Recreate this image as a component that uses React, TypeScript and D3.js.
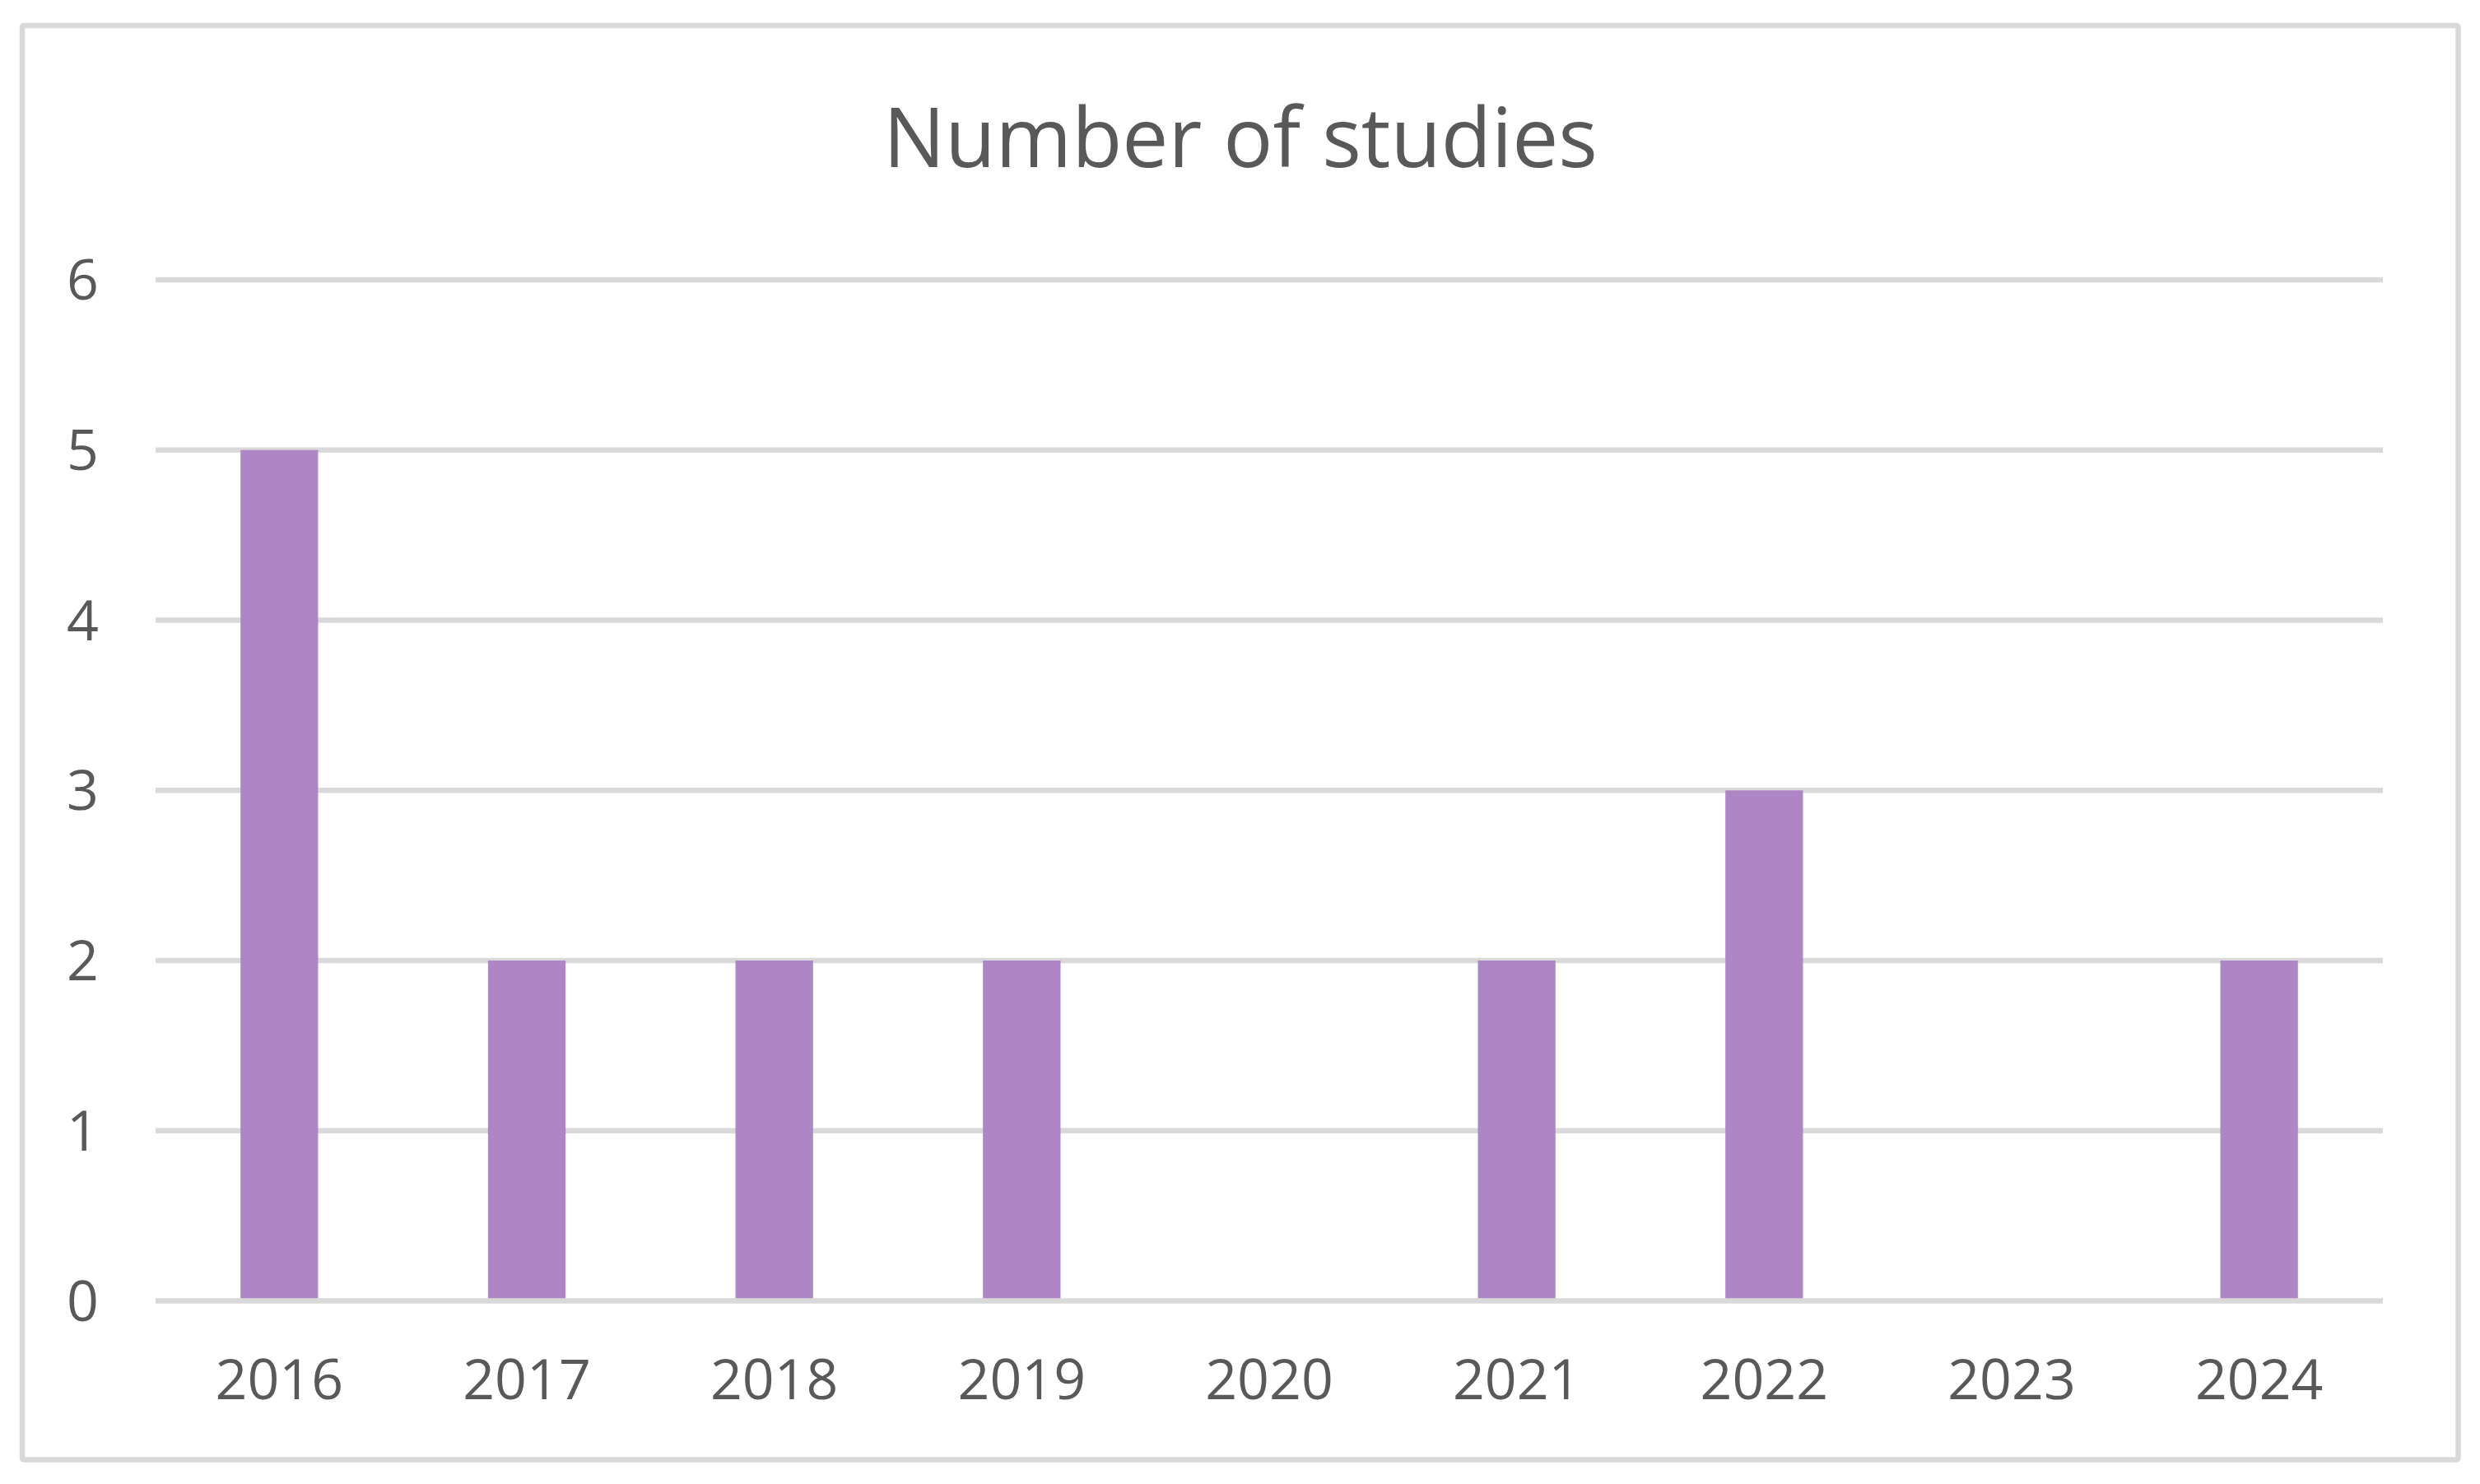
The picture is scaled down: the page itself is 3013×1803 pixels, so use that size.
import React from "react";
import * as d3 from "d3";

const years = ["2016", "2017", "2018", "2019", "2020", "2021", "2022", "2023", "2024"];
const studies = [5, 2, 2, 2, 0, 2, 3, 0, 2];
const yTicks = [0, 1, 2, 3, 4, 5, 6];
const title = "Number of studies";

const W = 3013;
const H = 1803;
const FONT = "'Open Sans', 'Noto Sans', sans-serif";
const TEXT = "#595959";
const GRID = "#d9d9d9";
const BAR = "#ae86c5";

export default function App() {
  const left = 189;
  const right = 2895;
  const top = 340;
  const bottom = 1580.5;

  const x = d3.scaleBand<string>().domain(years).range([left, right]).paddingInner(0).paddingOuter(0);
  const y = d3.scaleLinear().domain([0, 6]).range([bottom, top]);
  const bw = x.bandwidth() / 3.19;

  return (
    <svg
      width={W}
      height={H}
      viewBox={`0 0 ${W} ${H}`}
      style={{ position: "absolute", left: 0, top: 0, background: "#fff" }}
    >
      <rect x={0} y={0} width={W} height={H} fill="#fff" />
      <rect x={27} y={31} width={2959.5} height={1742.5} fill="#fff" stroke={GRID} strokeWidth={6.5} rx={2} />
      <text
        x={1507}
        y={203}
        textAnchor="middle"
        fontFamily={FONT}
        fontSize={100}
        fill={TEXT}
      >
        {title}
      </text>
      {yTicks
        .filter((t) => t !== 0)
        .map((t) => (
          <line key={"g" + t} x1={left} x2={right} y1={y(t)} y2={y(t)} stroke={GRID} strokeWidth={6.5} />
        ))}
      {years.map((yr, i) => (
        <rect
          key={"b" + yr}
          x={(x(yr) as number) + x.bandwidth() / 2 - bw / 2}
          y={y(studies[i])}
          width={bw}
          height={y(0) - y(studies[i])}
          fill={BAR}
        />
      ))}
      <line x1={left} x2={right} y1={y(0)} y2={y(0)} stroke={GRID} strokeWidth={6.5} />
      {yTicks.map((t) => (
        <text
          key={"yl" + t}
          x={120}
          y={y(t) + 24}
          textAnchor="end"
          fontFamily={FONT}
          fontSize={68}
          fill={TEXT}
        >
          {t}
        </text>
      ))}
      {years.map((yr) => (
        <text
          key={"xl" + yr}
          x={(x(yr) as number) + x.bandwidth() / 2}
          y={1700}
          textAnchor="middle"
          fontFamily={FONT}
          fontSize={68}
          fill={TEXT}
        >
          {yr}
        </text>
      ))}
    </svg>
  );
}
